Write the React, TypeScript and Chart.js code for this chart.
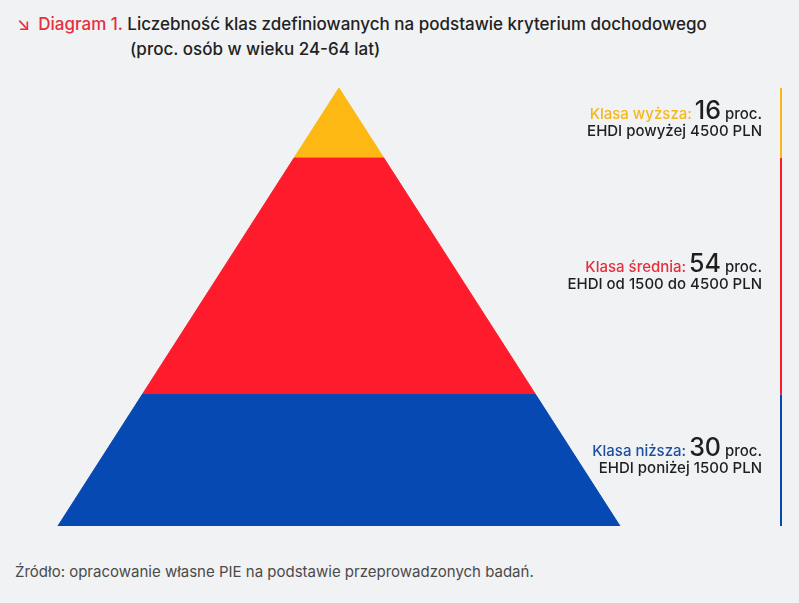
import { useEffect, useRef } from 'react';
import { Chart, registerables, type ChartConfiguration, type Plugin } from 'chart.js';

Chart.register(...registerables);

// bottom to top
const classNames = ['Klasa niższa', 'Klasa średnia', 'Klasa wyższa'];
const shares = [30, 54, 16];
const incomeRanges = ['EHDI poniżej 1500 PLN', 'EHDI od 1500 do 4500 PLN', 'EHDI powyżej 4500 PLN'];
const fillColors = ['#0649b3', '#fe1b2c', '#fdb813'];
const labelColors = ['#1d4f9e', '#e5303c', '#f4b71c'];

const FONT = 'Inter, "Open Sans", sans-serif';
const BAR_X = 157.3;

function bands() {
  let cum = 0;
  return shares.map((s) => {
    const lo = cum;
    cum += s;
    return { lo, hi: cum };
  });
}

export default function App() {
  const canvasRef = useRef<HTMLCanvasElement>(null);

  useEffect(() => {
    document.body.style.margin = '0';
    const canvas = canvasRef.current;
    if (!canvas) return;
    const b = bands();

    const labelsPlugin: Plugin = {
      id: 'pyramidLabels',
      afterDraw(c) {
        const ctx = c.ctx;
        const xs = c.scales.x;
        const ys = c.scales.y;
        const right = xs.getPixelForValue(BAR_X) - 19;
        ctx.save();
        ctx.textAlign = 'right';
        ctx.textBaseline = 'alphabetic';
        b.forEach((band, i) => {
          const mid = (ys.getPixelForValue(band.lo) + ys.getPixelForValue(band.hi)) / 2;
          const base1 = mid - 4;
          let x = right;
          ctx.font = `500 15px ${FONT}`;
          ctx.fillStyle = '#1f1f1f';
          ctx.fillText('proc.', x, base1);
          x -= ctx.measureText('proc.').width + 4;
          ctx.font = `500 25px ${FONT}`;
          const num = String(shares[i]);
          ctx.fillText(num, x, base1);
          x -= ctx.measureText(num).width + 3;
          ctx.font = `500 15px ${FONT}`;
          ctx.fillStyle = labelColors[i];
          ctx.fillText(classNames[i] + ':', x, base1);
          ctx.fillStyle = '#1f1f1f';
          ctx.fillText(incomeRanges[i], right, base1 + 17);
        });
        ctx.restore();
      },
    };

    const polygons = b.map((band, i) => ({
      type: 'line' as const,
      data: [
        { x: -(100 - band.lo), y: band.lo },
        { x: 100 - band.lo, y: band.lo },
        { x: 100 - band.hi, y: band.hi },
        { x: -(100 - band.hi), y: band.hi },
        { x: -(100 - band.lo), y: band.lo },
      ],
      backgroundColor: fillColors[i],
      borderColor: fillColors[i],
      borderWidth: 1,
      pointRadius: 0,
      tension: 0,
      fill: 'shape' as const,
    }));

    const sideBars = b.map((band, i) => ({
      type: 'line' as const,
      data: [
        { x: BAR_X, y: band.lo },
        { x: BAR_X, y: band.hi },
      ],
      borderColor: fillColors[i],
      borderWidth: 2,
      pointRadius: 0,
      fill: false,
    }));

    const config: ChartConfiguration = {
      type: 'line',
      data: { datasets: [...polygons, ...sideBars] as any },
      options: {
        responsive: true,
        maintainAspectRatio: false,
        animation: false,
        layout: { padding: 0 },
        plugins: {
          legend: { display: false },
          tooltip: { enabled: false },
        },
        scales: {
          x: { type: 'linear', min: -120.6, max: 163.7, display: false },
          y: { type: 'linear', min: 0, max: 100, display: false },
        },
      },
      plugins: [labelsPlugin],
    };

    const chart = new Chart(canvas, config);
    return () => chart.destroy();
  }, []);

  return (
    <div
      style={{
        position: 'relative',
        width: 799,
        height: 603,
        background: '#f1f2f4',
        fontFamily: FONT,
        overflow: 'hidden',
      }}
    >
      <div style={{ position: 'absolute', left: 17, top: 12, fontSize: 17, fontWeight: 500, color: '#222', lineHeight: '25px' }}>
        <span style={{ color: '#e5303c' }}>
          <span style={{ marginRight: 8 }}>↘</span>Diagram 1.
        </span>{' '}
        Liczebność klas zdefiniowanych na podstawie kryterium dochodowego
        <div style={{ paddingLeft: 113 }}>(proc. osób w wieku 24-64 lat)</div>
      </div>
      <div style={{ position: 'absolute', left: 0, top: 88, width: 799, height: 438 }}>
        <canvas ref={canvasRef} />
      </div>
      <div style={{ position: 'absolute', left: 15, top: 562, fontSize: 15, color: '#4a4a4a' }}>
        Źródło: opracowanie własne PIE na podstawie przeprowadzonych badań.
      </div>
    </div>
  );
}
